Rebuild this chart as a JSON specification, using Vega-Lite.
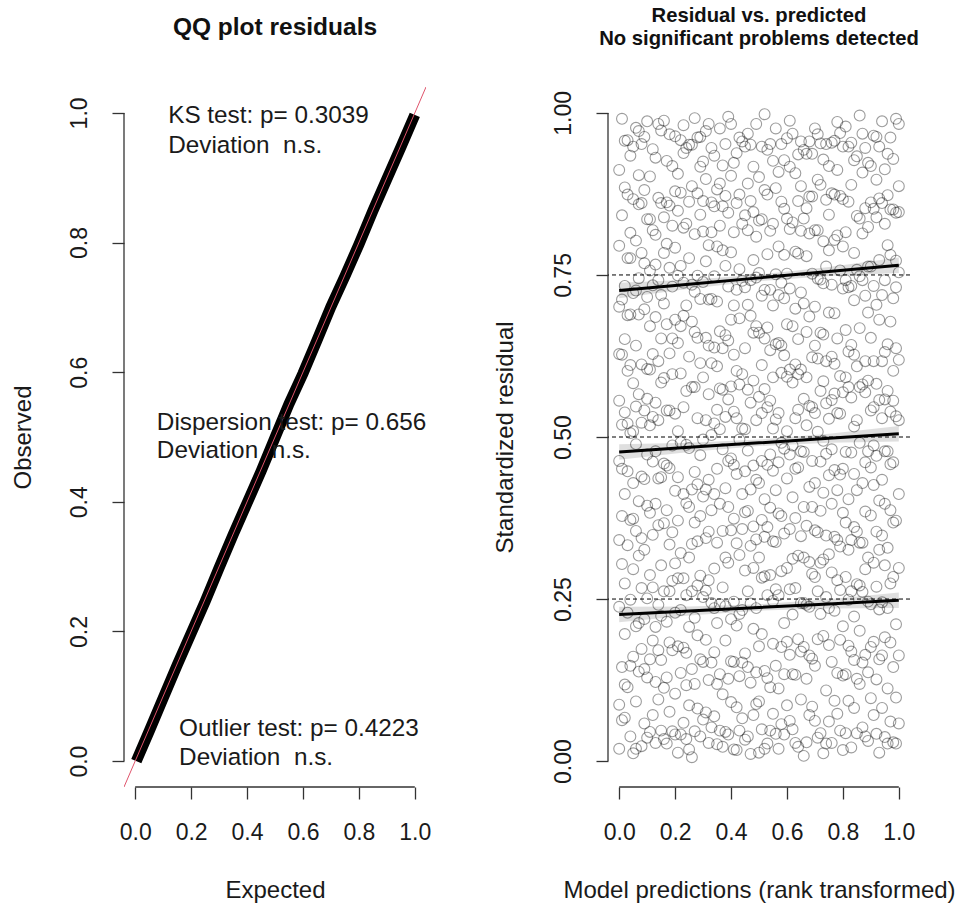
{
  "$schema": "https://vega.github.io/schema/vega-lite/v6.json",
  "background": "white",
  "padding": {"left": 11, "top": 5, "right": 5, "bottom": 2},
  "spacing": 182,
  "bounds": "flush",
  "config": {
    "view": {"stroke": null},
    "font": "Liberation Sans",
    "axis": {"domain": false, "grid": false, "tickColor": "#333333", "tickWidth": 1.3, "tickSize": 12, "labelFont": "Liberation Sans", "labelFontSize": 23, "labelColor": "#1a1a1a", "titleFont": "Liberation Sans", "titleFontSize": 24, "titleFontWeight": "normal", "titleColor": "#1a1a1a"},
    "axisX": {"labelPadding": 22, "titlePadding": 34, "labelFlush": false},
    "axisY": {"labelAngle": 270, "labelAlign": "center", "labelBaseline": "alphabetic", "labelPadding": 26, "titlePadding": 33, "labelFlush": false}
  },
  "hconcat": [
    {
      "width": 302,
      "height": 700,
      "title": {"text": "QQ plot residuals", "fontSize": 24.5, "fontWeight": "bold", "font": "Liberation Sans", "color": "#111111", "anchor": "middle", "baseline": "alphabetic", "offset": 28},
      "layer": [
        {
          "data": {"values": [
            {"e": 0.004, "o": 0.0}, {"e": 0.05, "o": 0.046}, {"e": 0.1, "o": 0.097}, {"e": 0.15, "o": 0.148}, {"e": 0.2, "o": 0.197}, {"e": 0.25, "o": 0.246}, {"e": 0.3, "o": 0.298}, {"e": 0.35, "o": 0.349}, {"e": 0.4, "o": 0.398}, {"e": 0.45, "o": 0.447}, {"e": 0.5, "o": 0.499}, {"e": 0.55, "o": 0.551}, {"e": 0.6, "o": 0.598}, {"e": 0.65, "o": 0.649}, {"e": 0.7, "o": 0.701}, {"e": 0.75, "o": 0.748}, {"e": 0.8, "o": 0.797}, {"e": 0.85, "o": 0.849}, {"e": 0.9, "o": 0.898}, {"e": 0.95, "o": 0.947}, {"e": 1.0, "o": 0.997}
          ]},
          "mark": {"type": "line", "color": "black", "strokeWidth": 11, "strokeCap": "butt"},
          "encoding": {
            "x": {"field": "e", "type": "quantitative", "scale": {"domain": [-0.04, 1.04], "nice": false, "zero": false}, "axis": {"values": [0, 0.2, 0.4, 0.6, 0.8, 1], "format": ".1f", "title": "Expected"}},
            "y": {"field": "o", "type": "quantitative", "scale": {"domain": [-0.04, 1.04], "nice": false, "zero": false}, "axis": {"values": [0, 0.2, 0.4, 0.6, 0.8, 1], "format": ".1f", "title": "Observed"}}
          }
        },
        {
          "data": {"values": [{}]},
          "mark": {"type": "rule", "color": "#DF536B", "strokeWidth": 1, "clip": true},
          "encoding": {"x": {"datum": -0.04, "type": "quantitative"}, "y": {"datum": -0.04, "type": "quantitative"}, "x2": {"datum": 1.04}, "y2": {"datum": 1.04}}
        },
        {
          "data": {"values": [{}]},
          "mark": {"type": "rule", "color": "#333333", "strokeWidth": 1.3},
          "encoding": {"x": {"datum": 0, "type": "quantitative"}, "x2": {"datum": 1}, "y": {"datum": -0.04, "type": "quantitative"}}
        },
        {
          "data": {"values": [{}]},
          "mark": {"type": "rule", "color": "#333333", "strokeWidth": 1.3},
          "encoding": {"y": {"datum": 0, "type": "quantitative"}, "y2": {"datum": 1}, "x": {"datum": -0.04, "type": "quantitative"}}
        },
        {
          "data": {"values": [
            {"x": 0.118, "y": 0.995, "t": "KS test: p= 0.3039"},
            {"x": 0.118, "y": 0.949, "t": "Deviation\u00a0 n.s."},
            {"x": 0.0775, "y": 0.522, "t": "Dispersion test: p= 0.656"},
            {"x": 0.0775, "y": 0.478, "t": "Deviation\u00a0 n.s."},
            {"x": 0.157, "y": 0.049, "t": "Outlier test: p= 0.4223"},
            {"x": 0.157, "y": 0.004, "t": "Deviation\u00a0 n.s."}
          ]},
          "mark": {"type": "text", "align": "left", "baseline": "middle", "fontSize": 24.3, "font": "Liberation Sans", "color": "#1a1a1a"},
          "encoding": {"x": {"field": "x", "type": "quantitative"}, "y": {"field": "y", "type": "quantitative"}, "text": {"field": "t"}}
        }
      ]
    },
    {
      "width": 302,
      "height": 700,
      "title": {"text": ["Residual vs. predicted", "No significant problems detected"], "fontSize": 20.25, "lineHeight": 23, "fontWeight": "bold", "font": "Liberation Sans", "color": "#111111", "anchor": "middle", "baseline": "alphabetic", "offset": 22},
      "layer": [
        {
          "data": {"values": [
{"p":0.00,"r":0.912},{"p":0.00,"r":0.087},{"p":0.00,"r":0.463},{"p":0.00,"r":0.701},{"p":0.00,"r":0.238},{"p":0.00,"r":0.556},{"p":0.00,"r":0.019},{"p":0.00,"r":0.341},{"p":0.00,"r":0.795},{"p":0.00,"r":0.628},
{"p":0.01,"r":0.378},{"p":0.01,"r":0.842},{"p":0.01,"r":0.145},{"p":0.01,"r":0.627},{"p":0.01,"r":0.991},{"p":0.01,"r":0.304},{"p":0.01,"r":0.519},{"p":0.01,"r":0.063},{"p":0.01,"r":0.712},{"p":0.01,"r":0.451},
{"p":0.02,"r":0.067},{"p":0.02,"r":0.733},{"p":0.02,"r":0.412},{"p":0.02,"r":0.885},{"p":0.02,"r":0.196},{"p":0.02,"r":0.651},{"p":0.02,"r":0.274},{"p":0.02,"r":0.957},{"p":0.02,"r":0.538},{"p":0.02,"r":0.118},
{"p":0.03,"r":0.958},{"p":0.03,"r":0.521},{"p":0.03,"r":0.333},{"p":0.03,"r":0.114},{"p":0.03,"r":0.776},{"p":0.03,"r":0.447},{"p":0.03,"r":0.602},{"p":0.03,"r":0.229},{"p":0.03,"r":0.874},{"p":0.03,"r":0.688},
{"p":0.04,"r":0.249},{"p":0.04,"r":0.815},{"p":0.04,"r":0.038},{"p":0.04,"r":0.689},{"p":0.04,"r":0.372},{"p":0.04,"r":0.934},{"p":0.04,"r":0.506},{"p":0.04,"r":0.611},{"p":0.04,"r":0.147},{"p":0.04,"r":0.776},
{"p":0.05,"r":0.583},{"p":0.05,"r":0.161},{"p":0.05,"r":0.867},{"p":0.05,"r":0.429},{"p":0.05,"r":0.722},{"p":0.05,"r":0.012},{"p":0.05,"r":0.296},{"p":0.05,"r":0.948},{"p":0.05,"r":0.374},{"p":0.05,"r":0.509},
{"p":0.06,"r":0.641},{"p":0.06,"r":0.355},{"p":0.06,"r":0.977},{"p":0.06,"r":0.208},{"p":0.06,"r":0.489},{"p":0.06,"r":0.803},{"p":0.06,"r":0.092},{"p":0.06,"r":0.547},{"p":0.06,"r":0.019},{"p":0.06,"r":0.726},
{"p":0.07,"r":0.138},{"p":0.07,"r":0.904},{"p":0.07,"r":0.566},{"p":0.07,"r":0.317},{"p":0.07,"r":0.745},{"p":0.07,"r":0.401},{"p":0.07,"r":0.859},{"p":0.07,"r":0.689},{"p":0.07,"r":0.213},{"p":0.07,"r":0.972},
{"p":0.08,"r":0.784},{"p":0.08,"r":0.023},{"p":0.08,"r":0.439},{"p":0.08,"r":0.612},{"p":0.08,"r":0.267},{"p":0.08,"r":0.952},{"p":0.08,"r":0.173},{"p":0.08,"r":0.344},{"p":0.08,"r":0.861},{"p":0.08,"r":0.522},
{"p":0.09,"r":0.326},{"p":0.09,"r":0.697},{"p":0.09,"r":0.058},{"p":0.09,"r":0.881},{"p":0.09,"r":0.541},{"p":0.09,"r":0.219},{"p":0.09,"r":0.768},{"p":0.09,"r":0.435},{"p":0.09,"r":0.963},{"p":0.09,"r":0.142},
{"p":0.10,"r":0.473},{"p":0.10,"r":0.129},{"p":0.10,"r":0.836},{"p":0.10,"r":0.394},{"p":0.10,"r":0.987},{"p":0.10,"r":0.605},{"p":0.10,"r":0.251},{"p":0.10,"r":0.716},{"p":0.10,"r":0.036},{"p":0.10,"r":0.559},
{"p":0.11,"r":0.902},{"p":0.11,"r":0.287},{"p":0.11,"r":0.671},{"p":0.11,"r":0.045},{"p":0.11,"r":0.518},{"p":0.11,"r":0.383},{"p":0.11,"r":0.757},{"p":0.11,"r":0.157},{"p":0.11,"r":0.836},{"p":0.11,"r":0.604},
{"p":0.12,"r":0.186},{"p":0.12,"r":0.628},{"p":0.12,"r":0.349},{"p":0.12,"r":0.819},{"p":0.12,"r":0.071},{"p":0.12,"r":0.944},{"p":0.12,"r":0.462},{"p":0.12,"r":0.734},{"p":0.12,"r":0.268},{"p":0.12,"r":0.531},
{"p":0.13,"r":0.553},{"p":0.13,"r":0.812},{"p":0.13,"r":0.207},{"p":0.13,"r":0.685},{"p":0.13,"r":0.397},{"p":0.13,"r":0.028},{"p":0.13,"r":0.931},{"p":0.13,"r":0.122},{"p":0.13,"r":0.478},{"p":0.13,"r":0.766},
{"p":0.14,"r":0.364},{"p":0.14,"r":0.095},{"p":0.14,"r":0.742},{"p":0.14,"r":0.526},{"p":0.14,"r":0.869},{"p":0.14,"r":0.241},{"p":0.14,"r":0.617},{"p":0.14,"r":0.983},{"p":0.14,"r":0.436},{"p":0.14,"r":0.171},
{"p":0.15,"r":0.719},{"p":0.15,"r":0.438},{"p":0.15,"r":0.156},{"p":0.15,"r":0.973},{"p":0.15,"r":0.302},{"p":0.15,"r":0.584},{"p":0.15,"r":0.047},{"p":0.15,"r":0.861},{"p":0.15,"r":0.224},{"p":0.15,"r":0.652},
{"p":0.16,"r":0.839},{"p":0.16,"r":0.262},{"p":0.16,"r":0.591},{"p":0.16,"r":0.113},{"p":0.16,"r":0.706},{"p":0.16,"r":0.459},{"p":0.16,"r":0.988},{"p":0.16,"r":0.034},{"p":0.16,"r":0.367},{"p":0.16,"r":0.784},
{"p":0.17,"r":0.027},{"p":0.17,"r":0.674},{"p":0.17,"r":0.387},{"p":0.17,"r":0.926},{"p":0.17,"r":0.215},{"p":0.17,"r":0.541},{"p":0.17,"r":0.798},{"p":0.17,"r":0.456},{"p":0.17,"r":0.862},{"p":0.17,"r":0.129},
{"p":0.18,"r":0.452},{"p":0.18,"r":0.183},{"p":0.18,"r":0.857},{"p":0.18,"r":0.334},{"p":0.18,"r":0.629},{"p":0.18,"r":0.076},{"p":0.18,"r":0.761},{"p":0.18,"r":0.967},{"p":0.18,"r":0.541},{"p":0.18,"r":0.262},
{"p":0.19,"r":0.597},{"p":0.19,"r":0.918},{"p":0.19,"r":0.278},{"p":0.19,"r":0.046},{"p":0.19,"r":0.487},{"p":0.19,"r":0.732},{"p":0.19,"r":0.353},{"p":0.19,"r":0.171},{"p":0.19,"r":0.652},{"p":0.19,"r":0.826},
{"p":0.20,"r":0.104},{"p":0.20,"r":0.536},{"p":0.20,"r":0.792},{"p":0.20,"r":0.417},{"p":0.20,"r":0.964},{"p":0.20,"r":0.229},{"p":0.20,"r":0.681},{"p":0.20,"r":0.305},{"p":0.20,"r":0.879},{"p":0.20,"r":0.041},
{"p":0.21,"r":0.849},{"p":0.21,"r":0.371},{"p":0.21,"r":0.013},{"p":0.21,"r":0.645},{"p":0.21,"r":0.282},{"p":0.21,"r":0.906},{"p":0.21,"r":0.509},{"p":0.21,"r":0.749},{"p":0.21,"r":0.177},{"p":0.21,"r":0.438},
{"p":0.22,"r":0.233},{"p":0.22,"r":0.764},{"p":0.22,"r":0.492},{"p":0.22,"r":0.136},{"p":0.22,"r":0.877},{"p":0.22,"r":0.598},{"p":0.22,"r":0.321},{"p":0.22,"r":0.041},{"p":0.22,"r":0.671},{"p":0.22,"r":0.958},
{"p":0.23,"r":0.687},{"p":0.23,"r":0.059},{"p":0.23,"r":0.938},{"p":0.23,"r":0.412},{"p":0.23,"r":0.175},{"p":0.23,"r":0.823},{"p":0.23,"r":0.546},{"p":0.23,"r":0.282},{"p":0.23,"r":0.738},{"p":0.23,"r":0.981},
{"p":0.24,"r":0.398},{"p":0.24,"r":0.829},{"p":0.24,"r":0.167},{"p":0.24,"r":0.703},{"p":0.24,"r":0.034},{"p":0.24,"r":0.571},{"p":0.24,"r":0.946},{"p":0.24,"r":0.488},{"p":0.24,"r":0.256},{"p":0.24,"r":0.117},
{"p":0.25,"r":0.951},{"p":0.25,"r":0.314},{"p":0.25,"r":0.624},{"p":0.25,"r":0.086},{"p":0.25,"r":0.483},{"p":0.25,"r":0.776},{"p":0.25,"r":0.207},{"p":0.25,"r":0.392},{"p":0.25,"r":0.863},{"p":0.25,"r":0.018},
{"p":0.26,"r":0.142},{"p":0.26,"r":0.577},{"p":0.26,"r":0.887},{"p":0.26,"r":0.262},{"p":0.26,"r":0.735},{"p":0.26,"r":0.419},{"p":0.26,"r":0.006},{"p":0.26,"r":0.678},{"p":0.26,"r":0.335},{"p":0.26,"r":0.951},
{"p":0.27,"r":0.662},{"p":0.27,"r":0.221},{"p":0.27,"r":0.446},{"p":0.27,"r":0.992},{"p":0.27,"r":0.368},{"p":0.27,"r":0.813},{"p":0.27,"r":0.119},{"p":0.27,"r":0.577},{"p":0.27,"r":0.046},{"p":0.27,"r":0.724},
{"p":0.28,"r":0.529},{"p":0.28,"r":0.876},{"p":0.28,"r":0.081},{"p":0.28,"r":0.339},{"p":0.28,"r":0.653},{"p":0.28,"r":0.194},{"p":0.28,"r":0.749},{"p":0.28,"r":0.962},{"p":0.28,"r":0.427},{"p":0.28,"r":0.271},
{"p":0.29,"r":0.286},{"p":0.29,"r":0.963},{"p":0.29,"r":0.614},{"p":0.29,"r":0.157},{"p":0.29,"r":0.843},{"p":0.29,"r":0.472},{"p":0.29,"r":0.038},{"p":0.29,"r":0.378},{"p":0.29,"r":0.713},{"p":0.29,"r":0.917},
{"p":0.30,"r":0.817},{"p":0.30,"r":0.408},{"p":0.30,"r":0.253},{"p":0.30,"r":0.739},{"p":0.30,"r":0.064},{"p":0.30,"r":0.592},{"p":0.30,"r":0.925},{"p":0.30,"r":0.153},{"p":0.30,"r":0.496},{"p":0.30,"r":0.864},
{"p":0.31,"r":0.075},{"p":0.31,"r":0.653},{"p":0.31,"r":0.344},{"p":0.31,"r":0.898},{"p":0.31,"r":0.526},{"p":0.31,"r":0.187},{"p":0.31,"r":0.771},{"p":0.31,"r":0.972},{"p":0.31,"r":0.419},{"p":0.31,"r":0.263},
{"p":0.32,"r":0.434},{"p":0.32,"r":0.125},{"p":0.32,"r":0.796},{"p":0.32,"r":0.566},{"p":0.32,"r":0.279},{"p":0.32,"r":0.983},{"p":0.32,"r":0.641},{"p":0.32,"r":0.028},{"p":0.32,"r":0.712},{"p":0.32,"r":0.354},
{"p":0.33,"r":0.713},{"p":0.33,"r":0.862},{"p":0.33,"r":0.052},{"p":0.33,"r":0.387},{"p":0.33,"r":0.614},{"p":0.33,"r":0.244},{"p":0.33,"r":0.503},{"p":0.33,"r":0.946},{"p":0.33,"r":0.152},{"p":0.33,"r":0.816},
{"p":0.34,"r":0.168},{"p":0.34,"r":0.521},{"p":0.34,"r":0.934},{"p":0.34,"r":0.297},{"p":0.34,"r":0.069},{"p":0.34,"r":0.748},{"p":0.34,"r":0.856},{"p":0.34,"r":0.412},{"p":0.34,"r":0.638},{"p":0.34,"r":0.236},
{"p":0.35,"r":0.609},{"p":0.35,"r":0.337},{"p":0.35,"r":0.709},{"p":0.35,"r":0.026},{"p":0.35,"r":0.451},{"p":0.35,"r":0.882},{"p":0.35,"r":0.213},{"p":0.35,"r":0.794},{"p":0.35,"r":0.542},{"p":0.35,"r":0.119},
{"p":0.36,"r":0.976},{"p":0.36,"r":0.242},{"p":0.36,"r":0.575},{"p":0.36,"r":0.134},{"p":0.36,"r":0.826},{"p":0.36,"r":0.397},{"p":0.36,"r":0.663},{"p":0.36,"r":0.047},{"p":0.36,"r":0.512},{"p":0.36,"r":0.891},
{"p":0.37,"r":0.355},{"p":0.37,"r":0.788},{"p":0.37,"r":0.481},{"p":0.37,"r":0.919},{"p":0.37,"r":0.103},{"p":0.37,"r":0.637},{"p":0.37,"r":0.268},{"p":0.37,"r":0.573},{"p":0.37,"r":0.022},{"p":0.37,"r":0.856},
{"p":0.38,"r":0.531},{"p":0.38,"r":0.045},{"p":0.38,"r":0.657},{"p":0.38,"r":0.314},{"p":0.38,"r":0.872},{"p":0.38,"r":0.186},{"p":0.38,"r":0.421},{"p":0.38,"r":0.764},{"p":0.38,"r":0.952},{"p":0.38,"r":0.239},
{"p":0.39,"r":0.846},{"p":0.39,"r":0.392},{"p":0.39,"r":0.127},{"p":0.39,"r":0.732},{"p":0.39,"r":0.558},{"p":0.39,"r":0.994},{"p":0.39,"r":0.306},{"p":0.39,"r":0.649},{"p":0.39,"r":0.041},{"p":0.39,"r":0.463},
{"p":0.40,"r":0.219},{"p":0.40,"r":0.681},{"p":0.40,"r":0.903},{"p":0.40,"r":0.467},{"p":0.40,"r":0.091},{"p":0.40,"r":0.356},{"p":0.40,"r":0.785},{"p":0.40,"r":0.578},{"p":0.40,"r":0.983},{"p":0.40,"r":0.154},
{"p":0.41,"r":0.627},{"p":0.41,"r":0.153},{"p":0.41,"r":0.374},{"p":0.41,"r":0.816},{"p":0.41,"r":0.246},{"p":0.41,"r":0.539},{"p":0.41,"r":0.018},{"p":0.41,"r":0.923},{"p":0.41,"r":0.457},{"p":0.41,"r":0.703},
{"p":0.42,"r":0.083},{"p":0.42,"r":0.938},{"p":0.42,"r":0.602},{"p":0.42,"r":0.209},{"p":0.42,"r":0.727},{"p":0.42,"r":0.443},{"p":0.42,"r":0.861},{"p":0.42,"r":0.336},{"p":0.42,"r":0.529},{"p":0.42,"r":0.017},
{"p":0.43,"r":0.759},{"p":0.43,"r":0.318},{"p":0.43,"r":0.047},{"p":0.43,"r":0.581},{"p":0.43,"r":0.874},{"p":0.43,"r":0.131},{"p":0.43,"r":0.496},{"p":0.43,"r":0.227},{"p":0.43,"r":0.683},{"p":0.43,"r":0.962},
{"p":0.44,"r":0.412},{"p":0.44,"r":0.597},{"p":0.44,"r":0.829},{"p":0.44,"r":0.066},{"p":0.44,"r":0.358},{"p":0.44,"r":0.956},{"p":0.44,"r":0.233},{"p":0.44,"r":0.741},{"p":0.44,"r":0.152},{"p":0.44,"r":0.513},
{"p":0.45,"r":0.294},{"p":0.45,"r":0.731},{"p":0.45,"r":0.166},{"p":0.45,"r":0.948},{"p":0.45,"r":0.512},{"p":0.45,"r":0.384},{"p":0.45,"r":0.637},{"p":0.45,"r":0.033},{"p":0.45,"r":0.842},{"p":0.45,"r":0.447},
{"p":0.46,"r":0.968},{"p":0.46,"r":0.479},{"p":0.46,"r":0.262},{"p":0.46,"r":0.704},{"p":0.46,"r":0.038},{"p":0.46,"r":0.819},{"p":0.46,"r":0.145},{"p":0.46,"r":0.573},{"p":0.46,"r":0.386},{"p":0.46,"r":0.891},
{"p":0.47,"r":0.121},{"p":0.47,"r":0.864},{"p":0.47,"r":0.553},{"p":0.47,"r":0.332},{"p":0.47,"r":0.687},{"p":0.47,"r":0.011},{"p":0.47,"r":0.742},{"p":0.47,"r":0.243},{"p":0.47,"r":0.951},{"p":0.47,"r":0.419},
{"p":0.48,"r":0.587},{"p":0.48,"r":0.204},{"p":0.48,"r":0.917},{"p":0.48,"r":0.456},{"p":0.48,"r":0.773},{"p":0.48,"r":0.298},{"p":0.48,"r":0.071},{"p":0.48,"r":0.661},{"p":0.48,"r":0.362},{"p":0.48,"r":0.847},
{"p":0.49,"r":0.342},{"p":0.49,"r":0.671},{"p":0.49,"r":0.088},{"p":0.49,"r":0.809},{"p":0.49,"r":0.236},{"p":0.49,"r":0.526},{"p":0.49,"r":0.983},{"p":0.49,"r":0.137},{"p":0.49,"r":0.434},{"p":0.49,"r":0.746},
{"p":0.50,"r":0.753},{"p":0.50,"r":0.013},{"p":0.50,"r":0.429},{"p":0.50,"r":0.661},{"p":0.50,"r":0.901},{"p":0.50,"r":0.177},{"p":0.50,"r":0.562},{"p":0.50,"r":0.314},{"p":0.50,"r":0.834},{"p":0.50,"r":0.092},
{"p":0.51,"r":0.196},{"p":0.51,"r":0.836},{"p":0.51,"r":0.611},{"p":0.51,"r":0.372},{"p":0.51,"r":0.049},{"p":0.51,"r":0.948},{"p":0.51,"r":0.463},{"p":0.51,"r":0.718},{"p":0.51,"r":0.283},{"p":0.51,"r":0.537},
{"p":0.52,"r":0.881},{"p":0.52,"r":0.404},{"p":0.52,"r":0.139},{"p":0.52,"r":0.574},{"p":0.52,"r":0.285},{"p":0.52,"r":0.727},{"p":0.52,"r":0.998},{"p":0.52,"r":0.019},{"p":0.52,"r":0.652},{"p":0.52,"r":0.346},
{"p":0.53,"r":0.027},{"p":0.53,"r":0.546},{"p":0.53,"r":0.782},{"p":0.53,"r":0.256},{"p":0.53,"r":0.943},{"p":0.53,"r":0.361},{"p":0.53,"r":0.669},{"p":0.53,"r":0.457},{"p":0.53,"r":0.128},{"p":0.53,"r":0.874},
{"p":0.54,"r":0.634},{"p":0.54,"r":0.287},{"p":0.54,"r":0.952},{"p":0.54,"r":0.114},{"p":0.54,"r":0.473},{"p":0.54,"r":0.818},{"p":0.54,"r":0.391},{"p":0.54,"r":0.047},{"p":0.54,"r":0.727},{"p":0.54,"r":0.556},
{"p":0.55,"r":0.448},{"p":0.55,"r":0.926},{"p":0.55,"r":0.073},{"p":0.55,"r":0.703},{"p":0.55,"r":0.339},{"p":0.55,"r":0.592},{"p":0.55,"r":0.181},{"p":0.55,"r":0.829},{"p":0.55,"r":0.247},{"p":0.55,"r":0.513},
{"p":0.56,"r":0.265},{"p":0.56,"r":0.751},{"p":0.56,"r":0.527},{"p":0.56,"r":0.884},{"p":0.56,"r":0.147},{"p":0.56,"r":0.418},{"p":0.56,"r":0.643},{"p":0.56,"r":0.976},{"p":0.56,"r":0.338},{"p":0.56,"r":0.042},
{"p":0.57,"r":0.909},{"p":0.57,"r":0.112},{"p":0.57,"r":0.382},{"p":0.57,"r":0.645},{"p":0.57,"r":0.794},{"p":0.57,"r":0.019},{"p":0.57,"r":0.537},{"p":0.57,"r":0.256},{"p":0.57,"r":0.719},{"p":0.57,"r":0.461},
{"p":0.58,"r":0.176},{"p":0.58,"r":0.599},{"p":0.58,"r":0.863},{"p":0.58,"r":0.293},{"p":0.58,"r":0.491},{"p":0.58,"r":0.738},{"p":0.58,"r":0.057},{"p":0.58,"r":0.952},{"p":0.58,"r":0.378},{"p":0.58,"r":0.641},
{"p":0.59,"r":0.714},{"p":0.59,"r":0.351},{"p":0.59,"r":0.041},{"p":0.59,"r":0.927},{"p":0.59,"r":0.626},{"p":0.59,"r":0.213},{"p":0.59,"r":0.852},{"p":0.59,"r":0.134},{"p":0.59,"r":0.482},{"p":0.59,"r":0.781},
{"p":0.60,"r":0.509},{"p":0.60,"r":0.837},{"p":0.60,"r":0.298},{"p":0.60,"r":0.086},{"p":0.60,"r":0.674},{"p":0.60,"r":0.436},{"p":0.60,"r":0.961},{"p":0.60,"r":0.184},{"p":0.60,"r":0.593},{"p":0.60,"r":0.752},
{"p":0.61,"r":0.062},{"p":0.61,"r":0.473},{"p":0.61,"r":0.729},{"p":0.61,"r":0.358},{"p":0.61,"r":0.917},{"p":0.61,"r":0.164},{"p":0.61,"r":0.604},{"p":0.61,"r":0.821},{"p":0.61,"r":0.265},{"p":0.61,"r":0.988},
{"p":0.62,"r":0.831},{"p":0.62,"r":0.226},{"p":0.62,"r":0.584},{"p":0.62,"r":0.968},{"p":0.62,"r":0.407},{"p":0.62,"r":0.049},{"p":0.62,"r":0.312},{"p":0.62,"r":0.671},{"p":0.62,"r":0.134},{"p":0.62,"r":0.487},
{"p":0.63,"r":0.375},{"p":0.63,"r":0.698},{"p":0.63,"r":0.133},{"p":0.63,"r":0.529},{"p":0.63,"r":0.786},{"p":0.63,"r":0.267},{"p":0.63,"r":0.907},{"p":0.63,"r":0.028},{"p":0.63,"r":0.612},{"p":0.63,"r":0.451},
{"p":0.64,"r":0.597},{"p":0.64,"r":0.022},{"p":0.64,"r":0.864},{"p":0.64,"r":0.317},{"p":0.64,"r":0.651},{"p":0.64,"r":0.453},{"p":0.64,"r":0.188},{"p":0.64,"r":0.783},{"p":0.64,"r":0.542},{"p":0.64,"r":0.936},
{"p":0.65,"r":0.244},{"p":0.65,"r":0.887},{"p":0.65,"r":0.478},{"p":0.65,"r":0.723},{"p":0.65,"r":0.095},{"p":0.65,"r":0.604},{"p":0.65,"r":0.956},{"p":0.65,"r":0.347},{"p":0.65,"r":0.169},{"p":0.65,"r":0.818},
{"p":0.66,"r":0.943},{"p":0.66,"r":0.314},{"p":0.66,"r":0.176},{"p":0.66,"r":0.559},{"p":0.66,"r":0.837},{"p":0.66,"r":0.392},{"p":0.66,"r":0.008},{"p":0.66,"r":0.706},{"p":0.66,"r":0.477},{"p":0.66,"r":0.244},
{"p":0.67,"r":0.127},{"p":0.67,"r":0.662},{"p":0.67,"r":0.937},{"p":0.67,"r":0.241},{"p":0.67,"r":0.518},{"p":0.67,"r":0.779},{"p":0.67,"r":0.363},{"p":0.67,"r":0.853},{"p":0.67,"r":0.029},{"p":0.67,"r":0.592},
{"p":0.68,"r":0.686},{"p":0.68,"r":0.423},{"p":0.68,"r":0.071},{"p":0.68,"r":0.814},{"p":0.68,"r":0.307},{"p":0.68,"r":0.956},{"p":0.68,"r":0.548},{"p":0.68,"r":0.163},{"p":0.68,"r":0.871},{"p":0.68,"r":0.238},
{"p":0.69,"r":0.463},{"p":0.69,"r":0.158},{"p":0.69,"r":0.752},{"p":0.69,"r":0.392},{"p":0.69,"r":0.623},{"p":0.69,"r":0.084},{"p":0.69,"r":0.871},{"p":0.69,"r":0.289},{"p":0.69,"r":0.937},{"p":0.69,"r":0.546},
{"p":0.70,"r":0.819},{"p":0.70,"r":0.537},{"p":0.70,"r":0.284},{"p":0.70,"r":0.976},{"p":0.70,"r":0.147},{"p":0.70,"r":0.701},{"p":0.70,"r":0.429},{"p":0.70,"r":0.062},{"p":0.70,"r":0.641},{"p":0.70,"r":0.356},
{"p":0.71,"r":0.036},{"p":0.71,"r":0.744},{"p":0.71,"r":0.621},{"p":0.71,"r":0.188},{"p":0.71,"r":0.897},{"p":0.71,"r":0.353},{"p":0.71,"r":0.508},{"p":0.71,"r":0.262},{"p":0.71,"r":0.819},{"p":0.71,"r":0.967},
{"p":0.72,"r":0.571},{"p":0.72,"r":0.306},{"p":0.72,"r":0.889},{"p":0.72,"r":0.462},{"p":0.72,"r":0.043},{"p":0.72,"r":0.661},{"p":0.72,"r":0.227},{"p":0.72,"r":0.953},{"p":0.72,"r":0.386},{"p":0.72,"r":0.743},
{"p":0.73,"r":0.928},{"p":0.73,"r":0.193},{"p":0.73,"r":0.414},{"p":0.73,"r":0.737},{"p":0.73,"r":0.586},{"p":0.73,"r":0.012},{"p":0.73,"r":0.802},{"p":0.73,"r":0.311},{"p":0.73,"r":0.658},{"p":0.73,"r":0.494},
{"p":0.74,"r":0.348},{"p":0.74,"r":0.617},{"p":0.74,"r":0.763},{"p":0.74,"r":0.109},{"p":0.74,"r":0.952},{"p":0.74,"r":0.474},{"p":0.74,"r":0.253},{"p":0.74,"r":0.866},{"p":0.74,"r":0.027},{"p":0.74,"r":0.552},
{"p":0.75,"r":0.692},{"p":0.75,"r":0.061},{"p":0.75,"r":0.528},{"p":0.75,"r":0.843},{"p":0.75,"r":0.319},{"p":0.75,"r":0.179},{"p":0.75,"r":0.918},{"p":0.75,"r":0.441},{"p":0.75,"r":0.788},{"p":0.75,"r":0.236},
{"p":0.76,"r":0.153},{"p":0.76,"r":0.876},{"p":0.76,"r":0.397},{"p":0.76,"r":0.624},{"p":0.76,"r":0.735},{"p":0.76,"r":0.028},{"p":0.76,"r":0.481},{"p":0.76,"r":0.954},{"p":0.76,"r":0.557},{"p":0.76,"r":0.291},
{"p":0.77,"r":0.804},{"p":0.77,"r":0.449},{"p":0.77,"r":0.232},{"p":0.77,"r":0.957},{"p":0.77,"r":0.567},{"p":0.77,"r":0.346},{"p":0.77,"r":0.691},{"p":0.77,"r":0.093},{"p":0.77,"r":0.613},{"p":0.77,"r":0.874},
{"p":0.78,"r":0.279},{"p":0.78,"r":0.912},{"p":0.78,"r":0.652},{"p":0.78,"r":0.073},{"p":0.78,"r":0.418},{"p":0.78,"r":0.811},{"p":0.78,"r":0.136},{"p":0.78,"r":0.537},{"p":0.78,"r":0.986},{"p":0.78,"r":0.341},
{"p":0.79,"r":0.536},{"p":0.79,"r":0.187},{"p":0.79,"r":0.969},{"p":0.79,"r":0.331},{"p":0.79,"r":0.757},{"p":0.79,"r":0.594},{"p":0.79,"r":0.047},{"p":0.79,"r":0.264},{"p":0.79,"r":0.872},{"p":0.79,"r":0.442},
{"p":0.80,"r":0.017},{"p":0.80,"r":0.729},{"p":0.80,"r":0.451},{"p":0.80,"r":0.867},{"p":0.80,"r":0.208},{"p":0.80,"r":0.383},{"p":0.80,"r":0.948},{"p":0.80,"r":0.569},{"p":0.80,"r":0.132},{"p":0.80,"r":0.794},
{"p":0.81,"r":0.665},{"p":0.81,"r":0.368},{"p":0.81,"r":0.816},{"p":0.81,"r":0.134},{"p":0.81,"r":0.592},{"p":0.81,"r":0.979},{"p":0.81,"r":0.284},{"p":0.81,"r":0.043},{"p":0.81,"r":0.477},{"p":0.81,"r":0.742},
{"p":0.82,"r":0.404},{"p":0.82,"r":0.093},{"p":0.82,"r":0.577},{"p":0.82,"r":0.731},{"p":0.82,"r":0.249},{"p":0.82,"r":0.863},{"p":0.82,"r":0.632},{"p":0.82,"r":0.178},{"p":0.82,"r":0.948},{"p":0.82,"r":0.326},
{"p":0.83,"r":0.889},{"p":0.83,"r":0.642},{"p":0.83,"r":0.021},{"p":0.83,"r":0.476},{"p":0.83,"r":0.954},{"p":0.83,"r":0.169},{"p":0.83,"r":0.341},{"p":0.83,"r":0.733},{"p":0.83,"r":0.262},{"p":0.83,"r":0.561},
{"p":0.84,"r":0.223},{"p":0.84,"r":0.516},{"p":0.84,"r":0.784},{"p":0.84,"r":0.361},{"p":0.84,"r":0.082},{"p":0.84,"r":0.711},{"p":0.84,"r":0.927},{"p":0.84,"r":0.627},{"p":0.84,"r":0.443},{"p":0.84,"r":0.156},
{"p":0.85,"r":0.758},{"p":0.85,"r":0.043},{"p":0.85,"r":0.609},{"p":0.85,"r":0.933},{"p":0.85,"r":0.418},{"p":0.85,"r":0.273},{"p":0.85,"r":0.526},{"p":0.85,"r":0.841},{"p":0.85,"r":0.127},{"p":0.85,"r":0.354},
{"p":0.86,"r":0.119},{"p":0.86,"r":0.837},{"p":0.86,"r":0.337},{"p":0.86,"r":0.491},{"p":0.86,"r":0.668},{"p":0.86,"r":0.996},{"p":0.86,"r":0.201},{"p":0.86,"r":0.577},{"p":0.86,"r":0.271},{"p":0.86,"r":0.748},
{"p":0.87,"r":0.581},{"p":0.87,"r":0.261},{"p":0.87,"r":0.908},{"p":0.87,"r":0.052},{"p":0.87,"r":0.742},{"p":0.87,"r":0.429},{"p":0.87,"r":0.814},{"p":0.87,"r":0.152},{"p":0.87,"r":0.968},{"p":0.87,"r":0.337},
{"p":0.88,"r":0.946},{"p":0.88,"r":0.385},{"p":0.88,"r":0.164},{"p":0.88,"r":0.617},{"p":0.88,"r":0.296},{"p":0.88,"r":0.853},{"p":0.88,"r":0.569},{"p":0.88,"r":0.038},{"p":0.88,"r":0.718},{"p":0.88,"r":0.461},
{"p":0.89,"r":0.314},{"p":0.89,"r":0.692},{"p":0.89,"r":0.478},{"p":0.89,"r":0.824},{"p":0.89,"r":0.031},{"p":0.89,"r":0.137},{"p":0.89,"r":0.763},{"p":0.89,"r":0.587},{"p":0.89,"r":0.923},{"p":0.89,"r":0.246},
{"p":0.90,"r":0.653},{"p":0.90,"r":0.918},{"p":0.90,"r":0.242},{"p":0.90,"r":0.097},{"p":0.90,"r":0.541},{"p":0.90,"r":0.379},{"p":0.90,"r":0.862},{"p":0.90,"r":0.176},{"p":0.90,"r":0.763},{"p":0.90,"r":0.453},
{"p":0.91,"r":0.071},{"p":0.91,"r":0.487},{"p":0.91,"r":0.733},{"p":0.91,"r":0.965},{"p":0.91,"r":0.184},{"p":0.91,"r":0.617},{"p":0.91,"r":0.426},{"p":0.91,"r":0.852},{"p":0.91,"r":0.306},{"p":0.91,"r":0.546},
{"p":0.92,"r":0.839},{"p":0.92,"r":0.126},{"p":0.92,"r":0.354},{"p":0.92,"r":0.582},{"p":0.92,"r":0.897},{"p":0.92,"r":0.269},{"p":0.92,"r":0.704},{"p":0.92,"r":0.042},{"p":0.92,"r":0.471},{"p":0.92,"r":0.963},
{"p":0.93,"r":0.402},{"p":0.93,"r":0.773},{"p":0.93,"r":0.013},{"p":0.93,"r":0.681},{"p":0.93,"r":0.326},{"p":0.93,"r":0.948},{"p":0.93,"r":0.157},{"p":0.93,"r":0.557},{"p":0.93,"r":0.868},{"p":0.93,"r":0.234},
{"p":0.94,"r":0.617},{"p":0.94,"r":0.245},{"p":0.94,"r":0.861},{"p":0.94,"r":0.434},{"p":0.94,"r":0.082},{"p":0.94,"r":0.529},{"p":0.94,"r":0.987},{"p":0.94,"r":0.719},{"p":0.94,"r":0.163},{"p":0.94,"r":0.348},
{"p":0.95,"r":0.191},{"p":0.95,"r":0.558},{"p":0.95,"r":0.397},{"p":0.95,"r":0.742},{"p":0.95,"r":0.913},{"p":0.95,"r":0.037},{"p":0.95,"r":0.302},{"p":0.95,"r":0.631},{"p":0.95,"r":0.829},{"p":0.95,"r":0.478},
{"p":0.96,"r":0.873},{"p":0.96,"r":0.329},{"p":0.96,"r":0.643},{"p":0.96,"r":0.112},{"p":0.96,"r":0.478},{"p":0.96,"r":0.796},{"p":0.96,"r":0.236},{"p":0.96,"r":0.027},{"p":0.96,"r":0.571},{"p":0.96,"r":0.937},
{"p":0.97,"r":0.458},{"p":0.97,"r":0.962},{"p":0.97,"r":0.183},{"p":0.97,"r":0.851},{"p":0.97,"r":0.061},{"p":0.97,"r":0.387},{"p":0.97,"r":0.678},{"p":0.97,"r":0.274},{"p":0.97,"r":0.539},{"p":0.97,"r":0.781},
{"p":0.98,"r":0.284},{"p":0.98,"r":0.714},{"p":0.98,"r":0.556},{"p":0.98,"r":0.029},{"p":0.98,"r":0.929},{"p":0.98,"r":0.602},{"p":0.98,"r":0.145},{"p":0.98,"r":0.851},{"p":0.98,"r":0.368},{"p":0.98,"r":0.461},
{"p":0.99,"r":0.731},{"p":0.99,"r":0.098},{"p":0.99,"r":0.846},{"p":0.99,"r":0.371},{"p":0.99,"r":0.637},{"p":0.99,"r":0.211},{"p":0.99,"r":0.991},{"p":0.99,"r":0.532},{"p":0.99,"r":0.027},{"p":0.99,"r":0.772},
{"p":1.00,"r":0.526},{"p":1.00,"r":0.887},{"p":1.00,"r":0.163},{"p":1.00,"r":0.412},{"p":1.00,"r":0.754},{"p":1.00,"r":0.058},{"p":1.00,"r":0.983},{"p":1.00,"r":0.298},{"p":1.00,"r":0.619},{"p":1.00,"r":0.847}
          ]},
          "mark": {"type": "point", "shape": "circle", "filled": false, "size": 118, "stroke": "black", "strokeOpacity": 0.55, "strokeWidth": 1.1},
          "encoding": {
            "x": {"field": "p", "type": "quantitative", "scale": {"domain": [-0.04, 1.04], "nice": false, "zero": false}, "axis": {"values": [0, 0.2, 0.4, 0.6, 0.8, 1], "format": ".1f", "title": "Model predictions (rank transformed)"}},
            "y": {"field": "r", "type": "quantitative", "scale": {"domain": [-0.04, 1.04], "nice": false, "zero": false}, "axis": {"values": [0, 0.25, 0.5, 0.75, 1], "format": ".2f", "title": "Standardized residual", "titlePadding": 35}}
          }
        },
        {
          "data": {"values": [{"h": 0.25}, {"h": 0.5}, {"h": 0.75}]},
          "mark": {"type": "rule", "color": "black", "strokeWidth": 1, "strokeDash": [4, 3]},
          "encoding": {"y": {"field": "h", "type": "quantitative"}}
        },
        {
          "data": {"values": [
            {"x": 0, "q": "0.25", "fit": 0.226, "lo": 0.214, "hi": 0.238}, {"x": 0.25, "q": "0.25", "fit": 0.2315, "lo": 0.2245, "hi": 0.2385}, {"x": 0.5, "q": "0.25", "fit": 0.237, "lo": 0.232, "hi": 0.242}, {"x": 0.75, "q": "0.25", "fit": 0.2425, "lo": 0.2355, "hi": 0.2495}, {"x": 1, "q": "0.25", "fit": 0.248, "lo": 0.236, "hi": 0.26},
            {"x": 0, "q": "0.5", "fit": 0.477, "lo": 0.465, "hi": 0.489}, {"x": 0.25, "q": "0.5", "fit": 0.484, "lo": 0.477, "hi": 0.491}, {"x": 0.5, "q": "0.5", "fit": 0.491, "lo": 0.486, "hi": 0.496}, {"x": 0.75, "q": "0.5", "fit": 0.498, "lo": 0.491, "hi": 0.505}, {"x": 1, "q": "0.5", "fit": 0.505, "lo": 0.493, "hi": 0.517},
            {"x": 0, "q": "0.75", "fit": 0.726, "lo": 0.714, "hi": 0.738}, {"x": 0.25, "q": "0.75", "fit": 0.7358, "lo": 0.7288, "hi": 0.7428}, {"x": 0.5, "q": "0.75", "fit": 0.7455, "lo": 0.7405, "hi": 0.7505}, {"x": 0.75, "q": "0.75", "fit": 0.7553, "lo": 0.7483, "hi": 0.7623}, {"x": 1, "q": "0.75", "fit": 0.765, "lo": 0.753, "hi": 0.777}
          ]},
          "layer": [
            {
              "mark": {"type": "area", "color": "black", "opacity": 0.125},
              "encoding": {"x": {"field": "x", "type": "quantitative"}, "y": {"field": "lo", "type": "quantitative"}, "y2": {"field": "hi"}, "detail": {"field": "q"}}
            },
            {
              "mark": {"type": "line", "color": "black", "strokeWidth": 3},
              "encoding": {"x": {"field": "x", "type": "quantitative"}, "y": {"field": "fit", "type": "quantitative"}, "detail": {"field": "q"}}
            }
          ]
        },
        {
          "data": {"values": [{}]},
          "mark": {"type": "rule", "color": "#333333", "strokeWidth": 1.3},
          "encoding": {"x": {"datum": 0, "type": "quantitative"}, "x2": {"datum": 1}, "y": {"datum": -0.04, "type": "quantitative"}}
        },
        {
          "data": {"values": [{}]},
          "mark": {"type": "rule", "color": "#333333", "strokeWidth": 1.3},
          "encoding": {"y": {"datum": 0, "type": "quantitative"}, "y2": {"datum": 1}, "x": {"datum": -0.04, "type": "quantitative"}}
        }
      ]
    }
  ]
}
